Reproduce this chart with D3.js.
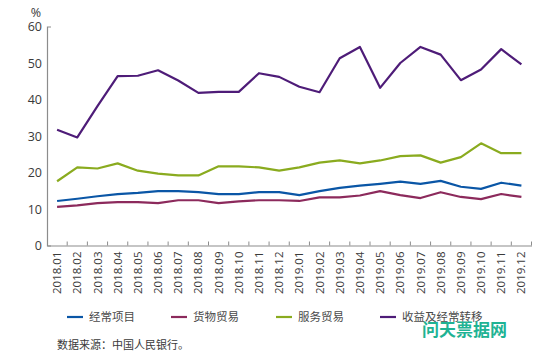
<!DOCTYPE html>
<html><head><meta charset="utf-8">
<script src="https://cdn.jsdelivr.net/npm/d3@7/dist/d3.min.js"></script>
<style>body{margin:0;background:#fff}svg{display:block}text{font-family:"Open Sans","Noto Sans CJK SC",sans-serif}</style>
</head><body><svg id="c" width="556" height="357"></svg>
<script>
const months = ["2018.01","2018.02","2018.03","2018.04","2018.05","2018.06","2018.07","2018.08","2018.09","2018.10","2018.11","2018.12",
"2019.01","2019.02","2019.03","2019.04","2019.05","2019.06","2019.07","2019.08","2019.09","2019.10","2019.11","2019.12"];
const currentAccount = [12.2,12.8,13.5,14.1,14.4,14.9,14.9,14.6,14.1,14.1,14.6,14.6,13.8,14.9,15.8,16.4,16.9,17.5,16.9,17.7,16.1,15.5,17.2,16.4];
const goodsTrade = [10.6,11.0,11.6,11.9,11.9,11.6,12.4,12.4,11.6,12.1,12.4,12.4,12.2,13.2,13.2,13.7,14.9,13.8,13.0,14.6,13.3,12.7,14.1,13.3];
const servicesTrade = [17.6,21.4,21.1,22.5,20.5,19.7,19.2,19.2,21.7,21.7,21.4,20.5,21.4,22.7,23.3,22.5,23.3,24.5,24.7,22.7,24.2,28.0,25.3,25.3];
const incomeTransfers = [31.7,29.6,38.2,46.4,46.5,48.0,45.2,41.8,42.1,42.1,47.2,46.2,43.5,42.0,51.3,54.4,43.2,50.0,54.4,52.3,45.3,48.2,53.8,49.6];
const seriesNames = ["经常项目","货物贸易","服务贸易","收益及经常转移"];
const seriesColors = ["#0a56a6","#8c2a5c","#8aab1f","#4e1c78"];
const yTicks = [0,10,20,30,40,50,60];
const unitLabel = "%";
const sourceText = "数据来源：中国人民银行。";
const watermark = "问天票据网";

const svg = d3.select("#c");
const x = d3.scaleBand().domain(months).range([47, 531.5]);
const y = d3.scaleLinear().domain([0,60]).range([245.5, 26.5]);

// y axis
const ya = svg.append("g").attr("transform","translate(47,0)")
  .call(d3.axisLeft(y).tickValues(yTicks).tickSizeInner(0).tickSizeOuter(-4).tickPadding(5));
ya.select(".domain").attr("stroke","#8c8c8c").attr("stroke-width",1.2);
ya.selectAll("text").attr("font-size",12.5).attr("fill","#3a3a3a");

// x axis
const xa = svg.append("g").attr("transform","translate(0,245.5)")
  .call(d3.axisBottom(x).tickSize(0).tickPadding(0));
xa.select(".domain").attr("stroke","#8c8c8c").attr("stroke-width",1.2);
xa.selectAll("text").attr("font-size",11.5).attr("fill","#3a3a3a")
  .attr("transform","rotate(-90)").attr("text-anchor","end").attr("dy","0.35em").attr("x",-6).attr("y",0);
// band boundary ticks pointing up
const bounds = months.map(m => x(m)).slice(1).concat([x(months[months.length-1]) + x.bandwidth()]);
svg.append("g").selectAll("line").data(bounds).join("line")
  .attr("x1",d=>d).attr("x2",d=>d).attr("y1",245.5).attr("y2",241.5)
  .attr("stroke","#8c8c8c").attr("stroke-width",1);

svg.append("text").attr("x",36).attr("y",17).attr("text-anchor","middle")
  .attr("font-size",12.5).attr("fill","#3a3a3a").text(unitLabel);

const allSeries = [currentAccount, goodsTrade, servicesTrade, incomeTransfers];
const line = d3.line().x((d,i)=>x(months[i]) + x.bandwidth()/2).y(d=>y(d));
svg.append("g").selectAll("path").data(allSeries).join("path")
  .attr("d", line).attr("fill","none")
  .attr("stroke",(d,i)=>seriesColors[i]).attr("stroke-width",2.2).attr("stroke-linejoin","round");

// legend
const legX = [67, 171, 276, 380];
const lg = svg.append("g").selectAll("g").data(seriesNames).join("g")
  .attr("transform",(d,i)=>`translate(${legX[i]},317)`);
lg.append("line").attr("x1",0).attr("x2",16).attr("y1",0).attr("y2",0)
  .attr("stroke",(d,i)=>seriesColors[i]).attr("stroke-width",2.2);
lg.append("text").attr("x",22).attr("y",0).attr("dy","0.35em")
  .attr("font-size",11.5).attr("fill","#4a4a4a").text(d=>d);

svg.append("text").attr("x",57).attr("y",345).attr("dy","0.35em")
  .attr("font-size",11).attr("fill","#3a3a3a").text(sourceText);

svg.append("text").attr("x",422).attr("y",330).attr("dy","0.35em")
  .attr("font-size",17).attr("font-weight","bold").attr("fill","#1fb394").text(watermark);
</script></body></html>
